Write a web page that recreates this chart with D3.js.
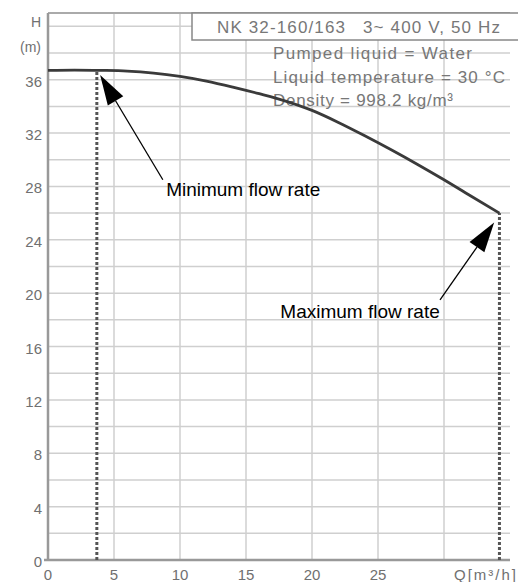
<!DOCTYPE html>
<html><head><meta charset="utf-8">
<script src="https://cdn.jsdelivr.net/npm/d3@7"></script>
<style>body{margin:0;background:#fff}svg{display:block}</style>
</head><body><div id="chart"></div>
<script>
// Data
const flowQ = [0, 2, 4, 6, 8, 10, 12, 14, 16, 18, 20, 22, 24, 26, 28, 30, 32, 34.2];
const headH = [36.7, 36.72, 36.7, 36.65, 36.5, 36.25, 35.9, 35.45, 34.95, 34.4, 33.7, 32.8, 31.8, 30.75, 29.65, 28.5, 27.3, 26.0];
const minFlow = 3.7;
const maxFlow = 34.2;
const xTicks = [0, 5, 10, 15, 20, 25];
const yTicks = [0, 4, 8, 12, 16, 20, 24, 28, 32, 36];
const xGrid = [5, 10, 15, 20, 25, 30];
const yGrid = d3.range(2, 41, 2);
const titleText = ["NK 32-160/163", "3~ 400 V, 50 Hz"];
const infoLines = ["Pumped liquid = Water", "Liquid temperature = 30 °C", "Density = 998.2 kg/m³"];
const annotations = [
  {label: "Minimum flow rate", from: [8.7, 28.5], to: [3.95, 36.35], text: [8.95, 27.3]},
  {label: "Maximum flow rate", from: [29.7, 19.5], to: [33.8, 25.3], text: [17.6, 18.14]}
];

const W = 518, H = 582;
const svg = d3.select("#chart").append("svg").attr("width", W).attr("height", H);
const x = d3.scaleLinear().domain([0, 35]).range([48, 510]);
const y = d3.scaleLinear().domain([0, 41]).range([560, 13]);

const interpH = q => {
  for (let i = 1; i < flowQ.length; i++) {
    if (q <= flowQ[i]) {
      const t = (q - flowQ[i-1]) / (flowQ[i] - flowQ[i-1]);
      return headH[i-1] + t * (headH[i] - headH[i-1]);
    }
  }
  return headH[headH.length - 1];
};

const grid = svg.append("g");
grid.selectAll(".hg").data(yGrid).join("line")
  .attr("x1", x(0)).attr("x2", x(35)).attr("y1", d => y(d)).attr("y2", d => y(d))
  .attr("stroke", "#cfcfcf").attr("stroke-width", 1.5);
grid.selectAll(".vg").data(xGrid).join("line")
  .attr("y1", y(0)).attr("y2", y(41)).attr("x1", d => x(d)).attr("x2", d => x(d))
  .attr("stroke", "#cfcfcf").attr("stroke-width", 1.5);

// frame
svg.append("line").attr("x1", x(0)).attr("x2", x(35)).attr("y1", y(41)).attr("y2", y(41)).attr("stroke", "#aaa").attr("stroke-width", 2);
svg.append("line").attr("x1", x(0)).attr("x2", x(0)).attr("y1", y(0)).attr("y2", y(41)).attr("stroke", "#999").attr("stroke-width", 2.5);
svg.append("line").attr("x1", x(0) - 4).attr("x2", x(35)).attr("y1", y(0)).attr("y2", y(0)).attr("stroke", "#999").attr("stroke-width", 2.5);

// axes labels
const tickFont = "Liberation Sans, Arial, sans-serif";
svg.append("g").selectAll("text").data(yTicks).join("text")
  .attr("x", 42).attr("y", d => y(d) + 7).attr("text-anchor", "end")
  .attr("font-family", tickFont).attr("font-size", 15).attr("fill", "#707070").text(d => d);
svg.append("g").selectAll("text").data(xTicks).join("text")
  .attr("x", d => x(d)).attr("y", 580).attr("text-anchor", "middle")
  .attr("font-family", tickFont).attr("font-size", 15).attr("fill", "#707070").text(d => d);
svg.append("text").attr("x", 454).attr("y", 580)
  .attr("font-family", tickFont).attr("font-size", 15).attr("fill", "#707070")
  .attr("textLength", 62).text("Q[m³/h]");
svg.append("text").attr("x", 41).attr("y", 27).attr("text-anchor", "end")
  .attr("font-family", tickFont).attr("font-size", 14).attr("fill", "#707070").text("H");
svg.append("text").attr("x", 41).attr("y", 52).attr("text-anchor", "end")
  .attr("font-family", tickFont).attr("font-size", 14).attr("fill", "#707070").text("(m)");

// title box
svg.append("rect").attr("x", 192).attr("y", y(41)).attr("width", 340).attr("height", 27)
  .attr("fill", "#fff").attr("stroke", "#888").attr("stroke-width", 1.5);
svg.append("text").attr("x", 217).attr("y", 33).attr("font-family", tickFont).attr("font-size", 17)
  .attr("fill", "#777").attr("textLength", 128).text(titleText[0]);
svg.append("text").attr("x", 363).attr("y", 33).attr("font-family", tickFont).attr("font-size", 17)
  .attr("fill", "#777").attr("textLength", 137).text(titleText[1]);
const infoW = [199, 232, 180];
svg.append("g").selectAll("text").data(infoLines).join("text")
  .attr("x", 273).attr("y", (d, i) => 59 + i * 23.5)
  .attr("font-family", tickFont).attr("font-size", 17).attr("fill", "#777")
  .attr("textLength", (d, i) => infoW[i]).text(d => d);

// dashed flow limits
svg.append("g").selectAll("line").data([minFlow, maxFlow]).join("line")
  .attr("x1", d => x(d)).attr("x2", d => x(d)).attr("y1", y(0)).attr("y2", d => y(interpH(d)))
  .attr("stroke", "#555").attr("stroke-width", 3).attr("stroke-dasharray", "3,2");

// curve
const line = d3.line().x((d, i) => x(flowQ[i])).y(d => y(d)).curve(d3.curveMonotoneX);
svg.append("path").datum(headH).attr("d", line).attr("fill", "none")
  .attr("stroke", "#3a3a3a").attr("stroke-width", 2.8);

// annotations
annotations.forEach(a => {
  const x1 = x(a.from[0]), y1 = y(a.from[1]), x2 = x(a.to[0]), y2 = y(a.to[1]);
  const dx = x2 - x1, dy = y2 - y1, len = Math.hypot(dx, dy);
  const ux = dx / len, uy = dy / len;
  const hl = 30, hw = 9;
  const bx = x2 - ux * hl, by = y2 - uy * hl;
  svg.append("line").attr("x1", x1).attr("y1", y1).attr("x2", bx).attr("y2", by)
    .attr("stroke", "#000").attr("stroke-width", 1.3);
  svg.append("path").attr("d", `M${x2},${y2}L${bx - uy * hw},${by + ux * hw}L${bx + uy * hw},${by - ux * hw}Z`)
    .attr("fill", "#000");
  svg.append("text").attr("x", x(a.text[0])).attr("y", y(a.text[1]))
    .attr("font-family", tickFont).attr("font-size", 19).attr("fill", "#000").text(a.label);
});
</script></body></html>
